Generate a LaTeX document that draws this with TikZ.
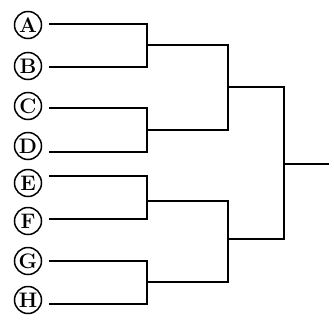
\documentclass[tikz,border=0pt]{standalone}
\begin{document}
\begin{tikzpicture}[x=1pt,y=-1pt,
  team/.style={circle,draw,line width=1.5pt,minimum size=27pt,inner sep=0pt,font=\fontsize{21}{21}\selectfont\bfseries},
  wire/.style={line width=1.7pt,line join=miter}]
\useasboundingbox (0,0) rectangle (334,327);
% teams
\node[team] (A) at (28,25)  {A};
\node[team] (B) at (28,66)  {B};
\node[team] (C) at (28,106) {C};
\node[team] (D) at (28,146) {D};
\node[team] (E) at (28,183) {E};
\node[team] (F) at (28,221) {F};
\node[team] (G) at (28,261) {G};
\node[team] (H) at (28,300) {H};
% line starts
\coordinate (a0) at (49,24);
\coordinate (b0) at (49,67);
\coordinate (c0) at (49,108);
\coordinate (d0) at (49,152);
\coordinate (e0) at (49,176);
\coordinate (f0) at (49,219);
\coordinate (g0) at (49,261);
\coordinate (h0) at (49,304);
% junctions
\coordinate (jab) at (147,45);
\coordinate (jcd) at (147,130);
\coordinate (jef) at (147,201);
\coordinate (jgh) at (147,282);
\coordinate (kt) at (228,87);
\coordinate (kb) at (228,239);
\coordinate (fin) at (284,164);
\coordinate (out) at (329,164);
% first round
\draw[wire] (a0) -| (jab) |- (b0);
\draw[wire] (c0) -| (jcd) |- (d0);
\draw[wire] (e0) -| (jef) |- (f0);
\draw[wire] (g0) -| (jgh) |- (h0);
% second round
\draw[wire] (jab) -| (kt) |- (jcd);
\draw[wire] (jef) -| (kb) |- (jgh);
% final
\draw[wire] (kt) -| (fin) |- (kb);
\draw[wire] (fin) -- (out);
\end{tikzpicture}
\end{document}
